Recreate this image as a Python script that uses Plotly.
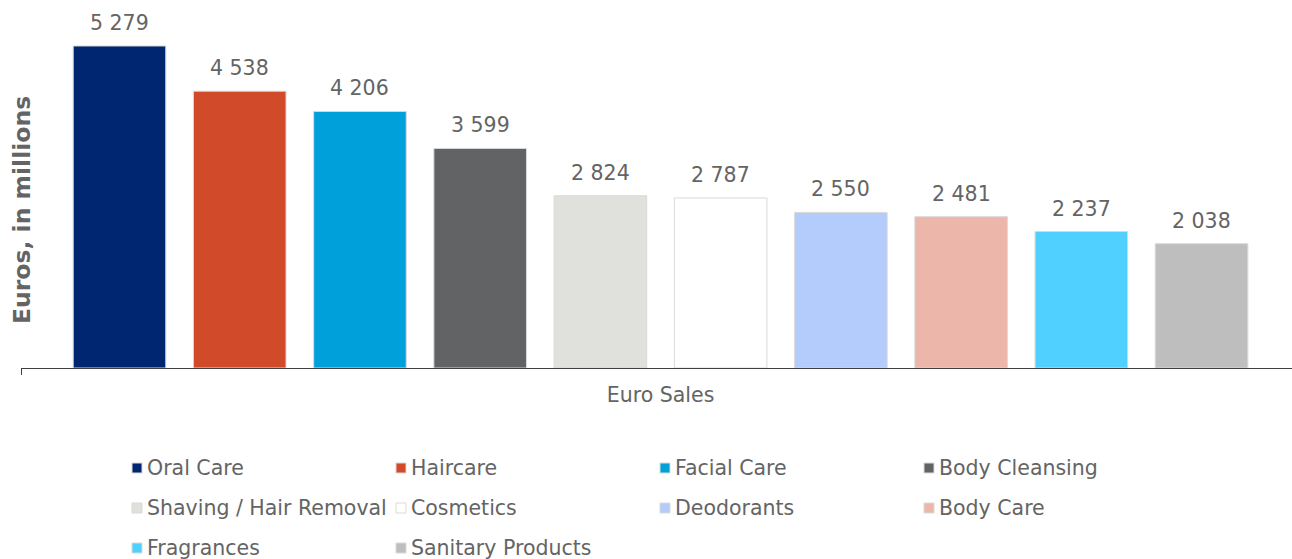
import plotly.graph_objects as go

# ---- data ----
category = ["Euro Sales"]
segments = [
    "Oral Care", "Haircare", "Facial Care", "Body Cleansing",
    "Shaving / Hair Removal", "Cosmetics", "Deodorants", "Body Care",
    "Fragrances", "Sanitary Products",
]
sales = [5279, 4538, 4206, 3599, 2824, 2787, 2550, 2481, 2237, 2038]
colors = [
    "#002672", "#D14A2A", "#00A0DA", "#626365", "#E0E0DC",
    "#FFFFFF", "#B3CCFB", "#EDB6AA", "#4FD0FF", "#BEBEBE",
]

# ---- layout constants ----
W, H = 1292, 559
ML, MR, MT, MB = 21, 0, 2, 191
PW, PH = W - ML - MR, H - MT - MB
TEXT = "#646464"
FONT = "Verdana, DejaVu Sans, sans-serif"
FS = 20.5
BARGAP, BARGROUPGAP = 0.06, 0.23


def fmt(v):
    return f"{v:,}".replace(",", " ")


def paper_x(px):
    return (px - ML) / PW


def paper_y(py):
    return (MT + PH - py) / PH


fig = go.Figure()
for name, val, col in zip(segments, sales, colors):
    fig.add_trace(go.Bar(
        x=category, y=[val], name=name,
        marker=dict(color=col, line=dict(color="#D9D9D9", width=1)),
        showlegend=False, hoverinfo="name+y",
    ))

# value labels above each bar
n = len(segments)
group_w = 1 - BARGAP
slot = group_w / n
annotations = []
for i, val in enumerate(sales):
    annotations.append(dict(
        x=-group_w / 2 + (i + 0.5) * slot, y=val, xref="x", yref="y",
        text=fmt(val), showarrow=False, yanchor="bottom", yshift=9,
        font=dict(family=FONT, size=FS, color=TEXT),
    ))

# y-axis title
annotations.append(dict(
    x=paper_x(22), y=paper_y(210), xref="paper", yref="paper",
    text="<b>Euros, in millions</b>", textangle=-90, showarrow=False,
    xanchor="center", yanchor="middle",
    font=dict(family=FONT, size=23.5, color=TEXT),
))

# legend laid out in four columns
shapes = []
col_x = [132, 396, 660, 924]
row_y = [468, 508, 548]
for i, (name, col) in enumerate(zip(segments, colors)):
    cx = col_x[i % 4]
    cy = row_y[i // 4]
    shapes.append(dict(
        type="rect", xref="paper", yref="paper",
        x0=paper_x(cx), x1=paper_x(cx + 10),
        y0=paper_y(cy + 5), y1=paper_y(cy - 5),
        fillcolor=col, line=dict(color="#D9D9D9", width=1),
    ))
    annotations.append(dict(
        x=paper_x(cx + 13), y=paper_y(cy), xref="paper", yref="paper",
        text=name, showarrow=False, xanchor="left", yanchor="middle",
        font=dict(family=FONT, size=FS, color=TEXT),
    ))

fig.update_layout(
    width=W, height=H,
    margin=dict(l=ML, r=MR, t=MT, b=MB, pad=0),
    paper_bgcolor="white", plot_bgcolor="white",
    barmode="group", bargap=BARGAP, bargroupgap=BARGROUPGAP,
    font=dict(family=FONT, size=FS, color=TEXT),
    xaxis=dict(
        type="category", range=[-0.5, 0.4937],
        showline=True, linecolor="#404040", linewidth=1,
        ticks="outside", tickson="boundaries", ticklen=6, tickcolor="#404040",
        tickfont=dict(family=FONT, size=FS, color=TEXT),
        ticklabelstandoff=8, showgrid=False, zeroline=False,
    ),
    yaxis=dict(
        range=[0, 6000], visible=False, showgrid=False, zeroline=False,
    ),
    annotations=annotations,
    shapes=shapes,
    showlegend=False,
)

fig.write_html("out.html")
